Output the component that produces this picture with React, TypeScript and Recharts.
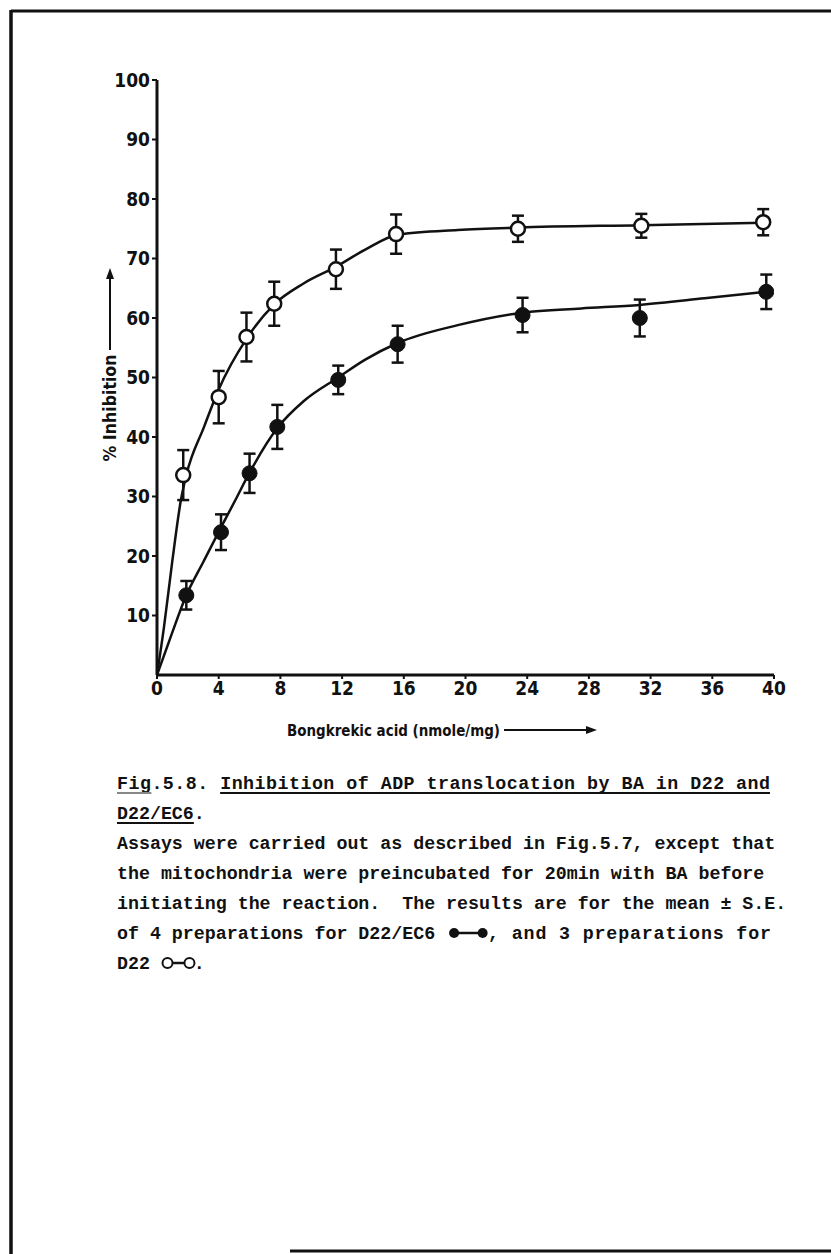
import React from 'react';
import { ComposedChart, XAxis, YAxis, Scatter, Line, ErrorBar } from 'recharts';

// ---- data ----
const xTicks = [0, 4, 8, 12, 16, 20, 24, 28, 32, 36, 40];
const yTicks = [10, 20, 30, 40, 50, 60, 70, 80, 90, 100];

// D22 (open circles)
const openX = [1.7, 4.0, 5.8, 7.6, 11.6, 15.5, 23.4, 31.4, 39.3];
const openY = [33.6, 46.7, 56.8, 62.4, 68.2, 74.1, 75.0, 75.5, 76.1];
const openErr = [4.2, 4.4, 4.1, 3.7, 3.3, 3.3, 2.2, 2.0, 2.2];

// D22/EC6 (filled circles)
const filledX = [1.9, 4.15, 6.0, 7.8, 11.75, 15.6, 23.7, 31.3, 39.5];
const filledY = [13.4, 24.0, 33.9, 41.7, 49.6, 55.6, 60.5, 60.0, 64.4];
const filledErr = [2.4, 3.0, 3.3, 3.7, 2.4, 3.1, 2.9, 3.1, 2.9];

// fitted curves (traced)
const openCurveX = [0, 0.45, 1.0, 1.55, 1.9, 3.05, 4.0, 5.8, 7.6, 9.5, 11.6, 13.5, 15.6, 19.5, 23.4, 31.4, 39.3];
const openCurveY = [0, 8, 19.3, 29.4, 33.6, 41.7, 48, 56.5, 62.3, 65.8, 68.6, 71.5, 74.0, 74.8, 75.2, 75.6, 76.0];
const filledCurveX = [0, 0.9, 1.9, 3.0, 4.15, 5.1, 6.0, 7.8, 9.5, 11.75, 13.5, 15.6, 19.5, 23.7, 27.5, 31.3, 35.5, 39.5];
const filledCurveY = [0, 6.5, 13.4, 19, 24.8, 29.5, 34, 41.5, 46, 50, 53, 55.8, 58.8, 60.9, 61.6, 62.2, 63.3, 64.4];

const xTitle = 'Bongkrekic acid (nmole/mg)';
const yTitle = '% Inhibition';

const captionLine1 = 'Fig.5.8. Inhibition of ADP translocation by BA in D22 and';
const captionLine2 = 'D22/EC6.';
const captionLine3 = 'Assays were carried out as described in Fig.5.7, except that';
const captionLine4 = 'the mitochondria were preincubated for 20min with BA before';
const captionLine5 = 'initiating the reaction.  The results are for the mean \u00B1 S.E.';
const captionLine6a = 'of 4 preparations for D22/EC6';
const captionLine6b = ', and 3 preparations for';
const captionLine7a = 'D22';
const captionLine7b = '.';

const openData = openX.map((x, i) => ({ x, y: openY[i], err: openErr[i] }));
const filledData = filledX.map((x, i) => ({ x, y: filledY[i], err: filledErr[i] }));
const openCurve = openCurveX.map((x, i) => ({ x, y: openCurveY[i] }));
const filledCurve = filledCurveX.map((x, i) => ({ x, y: filledCurveY[i] }));

const INK = '#111';
const COND = "'DejaVu Sans Condensed', 'Liberation Sans Narrow', 'DejaVu Sans', sans-serif";
const MONO = "'Liberation Mono', 'DejaVu Sans Mono', monospace";
const FS = 18.3;
const CW = FS * 0.6;
const CX = 117;
const L1W = 653;

const OpenDot = (p: any) => (
  <circle cx={p.cx} cy={p.cy} r={7} fill="#fff" stroke={INK} strokeWidth={2.5} />
);
const FilledDot = (p: any) => (
  <circle cx={p.cx} cy={p.cy} r={7.5} fill={INK} stroke={INK} strokeWidth={1} />
);

const tickStyle = { fontFamily: COND, fontWeight: 700, fontSize: 19, fill: INK };

export default function App() {
  const lineY = (i: number) => 789 + 30 * i;
  return (
    <div style={{ position: 'absolute', left: 0, top: 0, width: 831, height: 1254, background: '#fff' }}>
      <div style={{ position: 'absolute', left: 0, top: 0 }}>
        <ComposedChart width={831} height={800} margin={{ top: 80, right: 57, bottom: 95, left: 97 }}>
          <XAxis
            type="number"
            dataKey="x"
            domain={[0, 40]}
            ticks={xTicks}
            height={30}
            axisLine={{ stroke: INK, strokeWidth: 3 }}
            tickLine={{ stroke: INK, strokeWidth: 2 }}
            tickSize={4}
            tickMargin={3}
            tick={tickStyle}
            interval={0}
            allowDataOverflow
          />
          <YAxis
            type="number"
            dataKey="y"
            domain={[0, 100]}
            ticks={yTicks}
            width={60}
            axisLine={{ stroke: INK, strokeWidth: 3 }}
            tickLine={{ stroke: INK, strokeWidth: 2 }}
            tickSize={5}
            tickMargin={2}
            tick={tickStyle}
            interval={0}
            allowDataOverflow
          />
          <Line data={openCurve} dataKey="y" type="monotone" stroke={INK} strokeWidth={2.5} dot={false} activeDot={false} isAnimationActive={false} />
          <Line data={filledCurve} dataKey="y" type="monotone" stroke={INK} strokeWidth={2.5} dot={false} activeDot={false} isAnimationActive={false} />
          <Scatter data={openData} dataKey="y" shape={OpenDot} isAnimationActive={false}>
            <ErrorBar dataKey="err" direction="y" width={6} stroke={INK} strokeWidth={2.5} />
          </Scatter>
          <Scatter data={filledData} dataKey="y" shape={FilledDot} isAnimationActive={false}>
            <ErrorBar dataKey="err" direction="y" width={6} stroke={INK} strokeWidth={2.5} />
          </Scatter>
        </ComposedChart>
      </div>
      <svg width={831} height={1254} style={{ position: 'absolute', left: 0, top: 0, pointerEvents: 'none' }}>
        {/* page border */}
        <line x1={11} y1={11} x2={831} y2={11} stroke={INK} strokeWidth={3} />
        <line x1={11} y1={10} x2={11} y2={1254} stroke={INK} strokeWidth={3.5} />
        <line x1={290} y1={1251} x2={831} y2={1251} stroke={INK} strokeWidth={3} />

        {/* y title */}
        <text
          transform="translate(116,408) rotate(-90)"
          textAnchor="middle"
          fontFamily={COND}
          fontWeight={700}
          fontSize={17}
          fill={INK}
          textLength={107}
          lengthAdjust="spacingAndGlyphs"
        >
          {yTitle}
        </text>
        <line x1={110} y1={350} x2={110} y2={276} stroke={INK} strokeWidth={2} />
        <polygon points="110,268 106,279 114,279" fill={INK} />

        {/* x title */}
        <text x={287} y={736} fontFamily={COND} fontWeight={700} fontSize={15} fill={INK} textLength={213} lengthAdjust="spacingAndGlyphs">
          {xTitle}
        </text>
        <line x1={504} y1={730} x2={588} y2={730} stroke={INK} strokeWidth={2} />
        <polygon points="597,730 586,726 586,734" fill={INK} />

        {/* caption */}
        <g fontFamily={MONO} fontWeight={700} fontSize={FS} fill={INK}>
          <text x={CX} y={lineY(0)} xmlSpace="preserve" textLength={L1W} lengthAdjust="spacing">{captionLine1}</text>
          <text x={CX} y={lineY(1)} xmlSpace="preserve">{captionLine2}</text>
          <text x={CX} y={lineY(2)} xmlSpace="preserve">{captionLine3}</text>
          <text x={CX} y={lineY(3)} xmlSpace="preserve">{captionLine4}</text>
          <text x={CX} y={lineY(4)} xmlSpace="preserve">{captionLine5}</text>
          <text x={CX} y={lineY(5)} xmlSpace="preserve">{captionLine6a}</text>
          <text x={CX + 33.8 * CW} y={lineY(5)} xmlSpace="preserve" textLength={771 - (CX + 33.8 * CW)} lengthAdjust="spacing">{captionLine6b}</text>
          <text x={CX} y={lineY(6)} xmlSpace="preserve">{captionLine7a}</text>
          <text x={CX + 7 * CW} y={lineY(6)} xmlSpace="preserve">{captionLine7b}</text>
        </g>
        {/* underlines */}
        <line x1={CX} x2={CX + 3 * (L1W / 57)} y1={lineY(0) + 4} y2={lineY(0) + 4} stroke="#888" strokeWidth={2} />
        <line x1={CX + 9 * (L1W / 57)} x2={CX + L1W} y1={lineY(0) + 4} y2={lineY(0) + 4} stroke={INK} strokeWidth={2} />
        <line x1={CX} x2={CX + 7 * CW} y1={lineY(1) + 4} y2={lineY(1) + 4} stroke={INK} strokeWidth={2} />

        {/* legend symbols in caption */}
        <circle cx={CX + 30.7 * CW} cy={lineY(5) - 6} r={5} fill={INK} />
        <line x1={CX + 31 * CW} x2={CX + 33.2 * CW} y1={lineY(5) - 6} y2={lineY(5) - 6} stroke={INK} strokeWidth={2.5} />
        <circle cx={CX + 33.3 * CW} cy={lineY(5) - 6} r={5} fill={INK} />
        <circle cx={CX + 4.6 * CW} cy={lineY(6) - 6} r={5} fill="#fff" stroke={INK} strokeWidth={2} />
        <line x1={CX + 5.1 * CW} x2={CX + 6.1 * CW} y1={lineY(6) - 6} y2={lineY(6) - 6} stroke={INK} strokeWidth={2.5} />
        <circle cx={CX + 6.6 * CW} cy={lineY(6) - 6} r={5} fill="#fff" stroke={INK} strokeWidth={2} />
      </svg>
    </div>
  );
}
